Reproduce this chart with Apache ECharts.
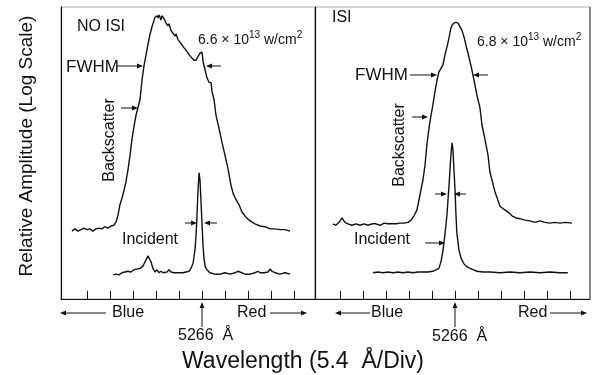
<!DOCTYPE html>
<html>
<head>
<meta charset="utf-8">
<script src="https://cdn.jsdelivr.net/npm/echarts@6/dist/echarts.min.js"></script>
<style>
  html, body { margin: 0; padding: 0; background: #fff; }
  #chart { width: 592px; height: 375px; }
</style>
</head>
<body>
<div id="chart"></div>
<script>
// x: offset from 5266 Å in divisions (5.4 Å / div), y: log10 of relative amplitude
const noIsiBackscatter = [
  [-5.65,0.93],[-5.52,0.96],[-5.39,0.93],[-5.26,0.95],[-5.13,0.97],[-5.00,0.95],[-4.87,0.96],[-4.74,0.93],
  [-4.61,0.96],[-4.48,0.97],[-4.35,0.96],[-4.22,0.99],[-4.09,0.97],[-3.96,1.00],[-3.83,1.01],[-3.74,1.05],
  [-3.65,1.15],[-3.57,1.29],[-3.48,1.38],[-3.39,1.49],[-3.31,1.60],[-3.22,1.77],[-3.13,1.97],[-3.05,2.18],
  [-2.96,2.36],[-2.87,2.52],[-2.79,2.62],[-2.70,2.73],[-2.61,3.00],[-2.53,3.19],[-2.44,3.34],[-2.35,3.49],
  [-2.27,3.62],[-2.18,3.73],[-2.09,3.82],[-2.05,3.86],[-2.01,3.84],[-1.96,3.88],[-1.92,3.85],[-1.88,3.89],
  [-1.83,3.86],[-1.79,3.82],[-1.75,3.88],[-1.70,3.86],[-1.66,3.84],[-1.62,3.86],[-1.57,3.78],[-1.49,3.74],
  [-1.44,3.77],[-1.36,3.68],[-1.27,3.64],[-1.18,3.60],[-1.14,3.63],[-1.05,3.55],[-0.97,3.52],[-0.88,3.48],
  [-0.79,3.44],[-0.71,3.41],[-0.62,3.37],[-0.53,3.33],[-0.45,3.30],[-0.36,3.27],[-0.27,3.27],[-0.19,3.32],
  [-0.10,3.37],[-0.01,3.38],[0.03,3.25],[0.12,3.14],[0.20,3.03],[0.29,2.97],[0.38,2.96],[0.42,2.84],
  [0.51,2.73],[0.59,2.52],[0.72,2.34],[0.85,2.15],[0.98,1.97],[1.11,1.79],[1.24,1.56],[1.33,1.45],
  [1.46,1.36],[1.59,1.29],[1.72,1.19],[1.89,1.12],[2.07,1.07],[2.28,1.03],[2.50,1.00],[2.72,0.99],
  [2.93,0.96],[3.15,0.96],[3.37,0.95],[3.58,0.95],[3.80,0.93]
];
const noIsiIncident = [
  [-3.87,0.33],[-3.74,0.34],[-3.61,0.33],[-3.48,0.36],[-3.35,0.37],[-3.22,0.38],[-3.09,0.37],[-2.96,0.40],
  [-2.83,0.41],[-2.70,0.42],[-2.57,0.45],[-2.48,0.51],[-2.40,0.56],[-2.35,0.59],[-2.31,0.56],[-2.22,0.51],
  [-2.14,0.42],[-2.05,0.37],[-1.96,0.40],[-1.88,0.36],[-1.79,0.38],[-1.70,0.36],[-1.62,0.38],[-1.53,0.37],
  [-1.44,0.40],[-1.36,0.37],[-1.23,0.36],[-1.10,0.36],[-0.97,0.36],[-0.84,0.36],[-0.71,0.37],[-0.58,0.38],
  [-0.49,0.42],[-0.40,0.49],[-0.32,0.67],[-0.27,0.88],[-0.23,1.15],[-0.19,1.47],[-0.14,1.73],[-0.10,1.63],
  [-0.06,1.36],[-0.01,1.01],[0.03,0.74],[0.07,0.56],[0.12,0.45],[0.20,0.40],[0.33,0.36],[0.55,0.34],
  [0.77,0.34],[0.98,0.36],[1.20,0.34],[1.42,0.36],[1.55,0.38],[1.63,0.36],[1.85,0.34],[2.07,0.34],
  [2.28,0.36],[2.41,0.38],[2.50,0.36],[2.67,0.36],[2.85,0.37],[2.93,0.41],[3.02,0.38],[3.15,0.36],
  [3.37,0.34],[3.58,0.36],[3.80,0.34]
];
const isiBackscatter = [
  [-5.30,1.03],[-5.17,1.01],[-5.04,1.05],[-4.91,1.11],[-4.78,1.05],[-4.65,1.03],[-4.48,1.01],[-4.30,1.03],
  [-4.13,1.01],[-3.96,1.03],[-3.78,1.01],[-3.61,1.03],[-3.44,1.03],[-3.26,1.01],[-3.09,1.04],[-2.92,1.03],
  [-2.74,1.03],[-2.57,1.03],[-2.40,1.04],[-2.22,1.04],[-2.05,1.05],[-1.92,1.08],[-1.79,1.14],[-1.66,1.22],
  [-1.57,1.36],[-1.49,1.49],[-1.40,1.63],[-1.31,1.84],[-1.23,2.11],[-1.14,2.34],[-1.05,2.52],[-0.97,2.66],
  [-0.88,2.84],[-0.79,3.00],[-0.71,3.11],[-0.62,3.16],[-0.53,3.21],[-0.45,3.34],[-0.36,3.45],[-0.27,3.58],
  [-0.19,3.71],[-0.14,3.75],[-0.06,3.78],[0.03,3.79],[0.12,3.78],[0.20,3.77],[0.29,3.68],[0.38,3.59],
  [0.46,3.48],[0.55,3.37],[0.64,3.25],[0.72,3.14],[0.81,3.00],[0.94,2.79],[1.07,2.62],[1.16,2.38],
  [1.29,2.18],[1.42,1.97],[1.50,1.74],[1.72,1.47],[1.94,1.27],[2.15,1.22],[2.33,1.18],[2.46,1.14],
  [2.63,1.11],[2.80,1.10],[3.02,1.08],[3.24,1.07],[3.45,1.05],[3.67,1.07],[3.89,1.05],[4.10,1.04],
  [4.32,1.05],[4.54,1.04],[4.75,1.05],[5.06,1.04]
];
const isiIncident = [
  [-3.57,0.36],[-3.35,0.37],[-3.13,0.36],[-2.92,0.37],[-2.70,0.36],[-2.48,0.37],[-2.27,0.36],[-2.05,0.37],
  [-1.83,0.36],[-1.62,0.37],[-1.40,0.37],[-1.18,0.37],[-0.97,0.38],[-0.84,0.40],[-0.71,0.42],[-0.62,0.51],
  [-0.53,0.67],[-0.45,0.88],[-0.36,1.15],[-0.27,1.56],[-0.19,1.97],[-0.14,2.14],[-0.10,2.04],[-0.06,1.79],
  [-0.01,1.49],[0.03,1.15],[0.07,0.90],[0.16,0.67],[0.25,0.56],[0.38,0.48],[0.51,0.44],[0.72,0.41],
  [0.94,0.38],[1.20,0.37],[1.50,0.37],[1.94,0.36],[2.37,0.37],[2.80,0.36],[3.24,0.37],[3.67,0.36],
  [4.10,0.37],[4.54,0.36],[4.88,0.36]
];
const leftTicks = [-5, -4, -3, -2, -1, 0, 1, 2, 3, 4];
const rightTicks = [-5, -4, -3, -2, -1, 0, 1, 2, 3, 4, 5];
const centerLabel = '5266  Å';
const panelTitles = ['NO ISI', 'ISI'];
const intensities = ['{n|6.6 × 10}{s|13}{n| w/cm}{s|2}', '{n|6.8 × 10}{s|13}{n| w/cm}{s|2}'];

const FONT = '"Liberation Sans", Arial, Helvetica, sans-serif';
const INK = '#111';

const chart = echarts.init(document.getElementById('chart'));

function text(str, x, y, size, align, rot) {
  return {
    type: 'text', x, y, rotation: rot || 0, z: 10,
    style: {
      text: str, fill: INK, font: size + 'px ' + FONT,
      textAlign: align || 'left', textVerticalAlign: 'middle'
    }
  };
}

function supText(str, x, y) {
  const t = text(str, x, y, 14);
  t.style.rich = {
    n: { fontSize: 14, fontFamily: FONT, fill: INK },
    s: { fontSize: 10, fontFamily: FONT, fill: INK, padding: [0, 0, 9, 0] }
  };
  return t;
}

// arrow with its head at (x2, y2)
function arrow(x1, y1, x2, y2) {
  const a = Math.atan2(y2 - y1, x2 - x1);
  const L = 6, W = 2.4;
  const bx = x2 - L * Math.cos(a), by = y2 - L * Math.sin(a);
  const px = -Math.sin(a) * W, py = Math.cos(a) * W;
  return [
    { type: 'line', z: 10, shape: { x1, y1, x2: bx, y2: by }, style: { stroke: INK, lineWidth: 1 } },
    { type: 'polygon', z: 10, shape: { points: [[x2, y2], [bx + px, by + py], [bx - px, by - py]] }, style: { fill: INK } }
  ];
}

const xAxisBase = {
  type: 'value',
  axisLine: { show: true, onZero: false, lineStyle: { color: INK, width: 1.2 } },
  axisTick: { show: true, inside: true, length: 8, lineStyle: { color: INK, width: 1 } },
  axisLabel: { show: false },
  splitLine: { show: false }
};
const yAxisBase = {
  type: 'value', min: 0, max: 4,
  axisLine: { show: true, onZero: false, lineStyle: { color: INK, width: 1.2 } },
  axisTick: { show: false },
  axisLabel: { show: false },
  splitLine: { show: false }
};
const lineBase = {
  type: 'line', showSymbol: false, silent: true,
  lineStyle: { color: INK, width: 1.4 }
};

const graphics = [].concat(
  text('Relative Amplitude (Log Scale)', 27, 146, 19, 'center', Math.PI / 2),
  text('Wavelength (5.4  Å/Div)', 303, 362, 23, 'center'),
  text(panelTitles[0], 77, 27, 16),
  text(panelTitles[1], 332, 18, 16),
  supText(intensities[0], 198, 40),
  supText(intensities[1], 477, 42),
  // left panel annotations
  text('FWHM', 66, 67, 17), arrow(117, 66, 143, 66), arrow(221, 66, 206, 66),
  text('Backscatter', 110, 140, 16, 'center', Math.PI / 2), arrow(121, 108, 138, 108),
  text('Incident', 150, 240, 16, 'center'),
  arrow(185, 223, 197, 223), arrow(217, 223, 204, 223),
  // right panel annotations
  text('FWHM', 355, 75, 17), arrow(410, 75, 437, 75), arrow(488, 75, 473, 75),
  text('Backscatter', 400, 145, 16, 'center', Math.PI / 2), arrow(412, 117, 428, 117),
  text('Incident', 382, 240, 16, 'center'), arrow(425, 243, 445, 243),
  arrow(435, 194, 447, 194), arrow(466, 194, 454, 194),
  // bottom labels
  arrow(106, 313, 60, 313), text('Blue', 112, 313, 16),
  text('Red', 237, 313, 16), arrow(270, 313, 307, 313),
  arrow(370, 313, 335, 313), text('Blue', 371, 313, 16),
  text('Red', 518, 313, 16), arrow(550, 313, 587, 313),
  arrow(202, 327, 202, 302), text(centerLabel, 178, 336, 16),
  arrow(455, 327, 455, 302), text(centerLabel, 432, 337, 16),
  [{ type: 'line', z: 10, shape: { x1: 590, y1: 7, x2: 590, y2: 299 }, style: { stroke: '#444', lineWidth: 1 } }]
);

chart.setOption({
  animation: false,
  grid: [
    { left: 61, top: 7, width: 254, height: 292, show: true, borderColor: '#aaa', borderWidth: 1 },
    { left: 315, top: 7, width: 275, height: 292, show: true, borderColor: '#aaa', borderWidth: 1 }
  ],
  xAxis: [
    Object.assign({}, xAxisBase, { gridIndex: 0, min: -6.12, max: 4.88,
      axisTick: Object.assign({}, xAxisBase.axisTick, { customValues: leftTicks }) }),
    Object.assign({}, xAxisBase, { gridIndex: 1, min: -6.08, max: 5.84,
      axisTick: Object.assign({}, xAxisBase.axisTick, { customValues: rightTicks }) })
  ],
  yAxis: [
    Object.assign({}, yAxisBase, { gridIndex: 0 }),
    Object.assign({}, yAxisBase, { gridIndex: 1 })
  ],
  series: [
    Object.assign({}, lineBase, { name: 'NO ISI Backscatter', xAxisIndex: 0, yAxisIndex: 0, data: noIsiBackscatter }),
    Object.assign({}, lineBase, { name: 'NO ISI Incident', xAxisIndex: 0, yAxisIndex: 0, data: noIsiIncident }),
    Object.assign({}, lineBase, { name: 'ISI Backscatter', xAxisIndex: 1, yAxisIndex: 1, data: isiBackscatter }),
    Object.assign({}, lineBase, { name: 'ISI Incident', xAxisIndex: 1, yAxisIndex: 1, data: isiIncident })
  ],
  graphic: graphics
});

window.addEventListener('resize', () => chart.resize());
</script>
</body>
</html>
